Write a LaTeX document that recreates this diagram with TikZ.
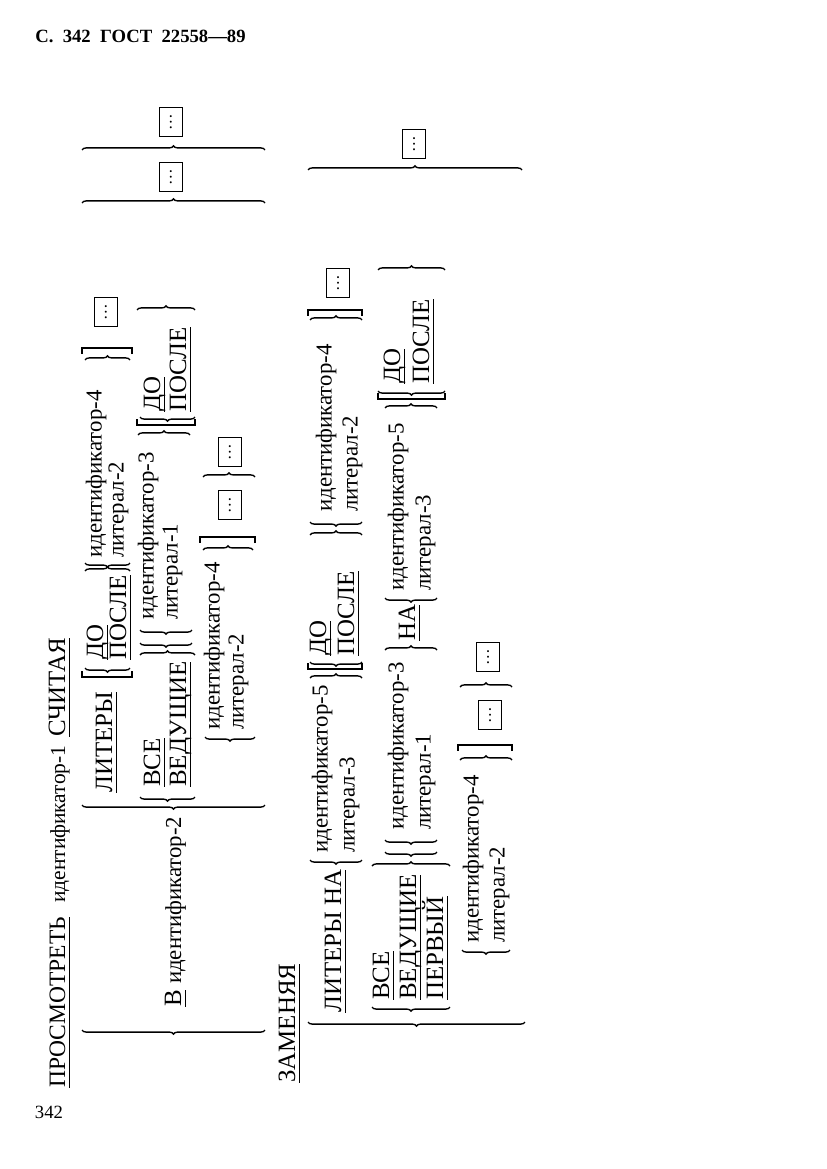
\documentclass[tikz,border=0pt]{standalone}
\usepackage{fontspec}
\setmainfont{Liberation Serif}
\usetikzlibrary{decorations.pathreplacing}
\tikzset{
  kw/.style = {font=\fontsize{18}{21}\selectfont, inner sep=0pt, anchor=base west, yshift=-5.9pt},
  idw/.style = {font=\fontsize{16.5}{20}\selectfont, inner sep=0pt, anchor=base west, yshift=-4pt},
  dbox/.style = {draw, line width=0.9pt, minimum width=21pt, minimum height=17pt, inner sep=0pt, font=\fontsize{12}{12}\selectfont},
  brc/.style = {decorate, decoration={brace, amplitude=3pt}, line width=1pt},
  bk/.style = {line width=1pt},
  hdr/.style = {font=\fontsize{13.5}{16}\selectfont\bfseries, inner sep=0pt, anchor=west},
  pnum/.style = {font=\fontsize{13.5}{16}\selectfont, inner sep=0pt}
}
% lower-case names inside a keyword line
\newcommand\lc{\fontsize{16.5}{20}\selectfont}
% underlined keyword
\newcommand\ulw[1]{\vtop{\setbox0\hbox{#1}\dp0=0pt\box0\kern2.6pt\hrule height1pt}}
% braces and brackets: #1 = position along the line, #2..#3 = extent across
\newcommand\openbr[3]{\draw[brc] (#1,-#3) -- (#1,-#2);}
\newcommand\closebr[3]{\draw[brc] (#1,-#2) -- (#1,-#3);}
\newcommand\openbk[3]{\draw[bk] (#1+6,-#3) -- (#1,-#3) -- (#1,-#2) -- (#1+6,-#2);}
\newcommand\closebk[3]{\draw[bk] (#1-6,-#3) -- (#1,-#3) -- (#1,-#2) -- (#1-6,-#2);}

\begin{document}
\begin{tikzpicture}[x=0.7227pt, y=0.7227pt]
  \useasboundingbox (0,0) rectangle (827,-1169);
  \node [hdr] (head) at (35,-36) {С.\enspace 342\enspace ГОСТ\enspace 22558—89};
  \node [pnum] (pnum) at (49,-1112) {342};

  \begin{scope}[shift={(0,-1088)}, rotate=90, transform shape]
    % ПРОСМОТРЕТЬ ... СЧИТАЯ
    \node [kw] (insp) at (0,-57) {\fontsize{17}{20}\selectfont\ulw{ПРОСМОТРЕТЬ}};
    \node [kw] (idf1) at (185,-57) {\fontsize{15.5}{19}\selectfont идентификатор-1};
    \node [kw] (tally) at (351,-57) {\ulw{СЧИТАЯ}};

    \openbr{58}{82}{265}
    \node [kw] (idf2) at (81,-173) {\ulw{В} \lc идентификатор-2};
    \openbr{283}{82}{265}

    % row A
    \node [kw] (chA) at (295,-104) {\ulw{ЛИТЕРЫ}};
    \openbk{411}{82}{132}
    \openbr{420}{85}{130}
    \node [kw] (befA) at (428,-95) {\ulw{ДО}};
    \node [kw] (aftA) at (428,-118) {\ulw{ПОСЛЕ}};
    \closebr{517}{85}{130}
    \openbr{525}{85}{130}
    \node [idw] (id4A) at (530,-96) {идентификатор-4};
    \node [idw] (lt2A) at (530,-118) {литерал-2};
    \closebr{728}{85}{130}
    \closebk{740}{82}{132}
    \node [dbox] (dotA) at (776,-106) {\ldots};

    % row B
    \openbr{291}{140}{195}
    \node [kw] (allB) at (301,-152) {\ulw{ВСЕ}};
    \node [kw] (leadB) at (301,-178) {\ulw{ВЕДУЩИЕ}};
    \closebr{433}{140}{195}
    \openbr{445}{140}{192}
    \openbr{458}{140}{192}
    \node [idw] (id3B) at (468,-148) {идентификатор-3};
    \node [idw] (lt1B) at (468,-172) {литерал-1};
    \closebr{653}{138}{190}
    \openbk{663}{137}{195}
    \openbr{671}{140}{195}
    \node [kw] (befB) at (676,-152) {\ulw{ДО}};
    \node [kw] (aftB) at (676,-178) {\ulw{ПОСЛЕ}};
    \closebr{778}{137}{195}

    % row C
    \openbr{351}{205}{255}
    \node [idw] (id4C) at (358,-214) {идентификатор-4};
    \node [idw] (lt2C) at (358,-238) {литерал-2};
    \closebr{538}{203}{253}
    \closebk{551}{200}{255}
    \node [dbox] (dotC1) at (583,-230) {\ldots};
    \closebr{611}{203}{255}
    \node [dbox] (dotC2) at (636,-230) {\ldots};

    \closebr{885}{82}{265}
    \node [dbox] (dotI) at (911,-171) {\ldots};
    \closebr{938}{82}{265}
    \node [dbox] (dotO) at (966,-171) {\ldots};

    % ЗАМЕНЯЯ
    \node [kw] (repl) at (5,-287) {\ulw{ЗАМЕНЯЯ}};
    \openbr{66}{308}{525}

    % row R1
    \node [kw] (chR) at (75,-333) {\ulw{ЛИТЕРЫ НА}};
    \openbr{228}{310}{362}
    \node [idw] (id5R) at (235,-322) {идентификатор-5};
    \node [idw] (lt3R) at (235,-349) {литерал-3};
    \closebr{410}{310}{362}
    \openbk{419}{308}{362}
    \openbr{426}{310}{362}
    \node [kw] (befR) at (432,-318) {\ulw{ДО}};
    \node [kw] (aftR) at (432,-346) {\ulw{ПОСЛЕ}};
    \closebr{553}{310}{362}
    \openbr{566}{310}{362}
    \node [idw] (id4R) at (576,-326) {идентификатор-4};
    \node [idw] (lt2R) at (576,-352) {литерал-2};
    \closebr{768}{310}{362}
    \closebk{778}{308}{362}
    \node [dbox] (dotR) at (805,-338) {\ldots};

    % row R2
    \openbr{81}{372}{450}
    \node [kw] (allS) at (88,-381) {\ulw{ВСЕ}};
    \node [kw] (leadS) at (88,-408) {\ulw{ВЕДУЩИЕ}};
    \node [kw] (firstS) at (88,-435) {\ulw{ПЕРВЫЙ}};
    \closebr{222}{372}{450}
    \openbr{236}{385}{437}
    \openbr{248}{385}{437}
    \node [idw] (id3S) at (258,-398) {идентификатор-3};
    \node [idw] (lt1S) at (258,-425) {литерал-1};
    \closebr{438}{385}{437}
    \node [kw] (byS) at (447,-407) {\ulw{НА}};
    \openbr{490}{385}{437}
    \node [idw] (id5S) at (497,-398) {идентификатор-5};
    \node [idw] (lt3S) at (497,-425) {литерал-3};
    \closebr{680}{385}{437}
    \openbk{689}{378}{445}
    \openbr{697}{378}{445}
    \node [kw] (befS) at (704,-392) {\ulw{ДО}};
    \node [kw] (aftS) at (704,-421) {\ulw{ПОСЛЕ}};
    \closebr{818}{378}{445}

    % row R3
    \openbr{138}{462}{510}
    \node [idw] (id4T) at (145,-473) {идентификатор-4};
    \node [idw] (lt2T) at (145,-499) {литерал-2};
    \closebr{328}{460}{512}
    \closebk{343}{458}{512}
    \node [dbox] (dotT1) at (373,-490) {\ldots};
    \closebr{401}{460}{512}
    \node [dbox] (dotT2) at (431,-488) {\ldots};

    \closebr{918}{308}{522}
    \node [dbox] (dotS) at (944,-414) {\ldots};
  \end{scope}
\end{tikzpicture}
\end{document}
